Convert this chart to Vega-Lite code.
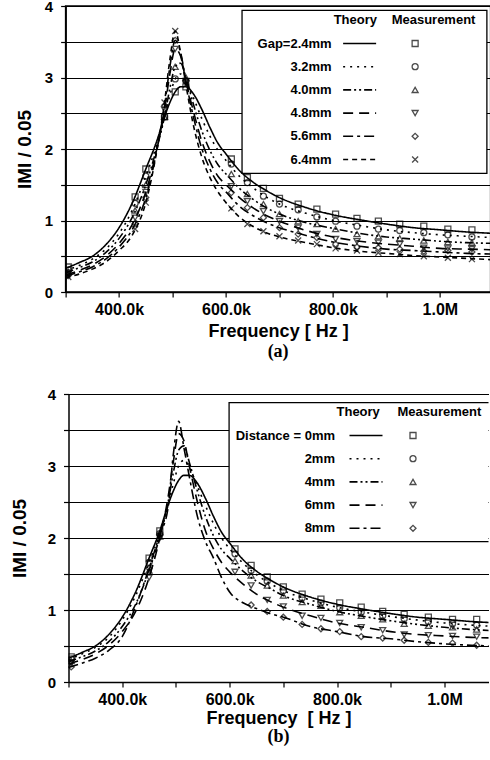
{
"$schema":"https://vega.github.io/schema/vega-lite/v6.json",
"padding":{"left":9.5,"top":-2,"right":0,"bottom":0},
"config":{
 "font":"Liberation Sans",
 "view":{"stroke":null},
 "axis":{"labelFont":"Liberation Sans","labelFontWeight":"bold","labelColor":"black","titleFont":"Liberation Sans","titleFontWeight":"bold","titleColor":"black","domainColor":"black","tickColor":"black","gridColor":"black","gridOpacity":1,"gridWidth":1,"domainWidth":1.5,"tickWidth":1.2},
 "legend":{"labelFont":"Liberation Sans","titleFont":"Liberation Sans","labelColor":"black","titleColor":"black","labelFontWeight":"bold","titleFontWeight":"bold","labelFontSize":13,"titleFontSize":13,"padding":0}
},
"datasets":{
"thA":[
{"k":300,"v":0.33,"s":"Gap=2.4mm"},{"k":325,"v":0.41,"s":"Gap=2.4mm"},{"k":350,"v":0.5,"s":"Gap=2.4mm"},{"k":375,"v":0.66,"s":"Gap=2.4mm"},{"k":400,"v":0.9,"s":"Gap=2.4mm"},{"k":425,"v":1.25,"s":"Gap=2.4mm"},{"k":450,"v":1.72,"s":"Gap=2.4mm"},{"k":470,"v":2.1,"s":"Gap=2.4mm"},{"k":485,"v":2.45,"s":"Gap=2.4mm"},{"k":495,"v":2.65,"s":"Gap=2.4mm"},{"k":505,"v":2.8,"s":"Gap=2.4mm"},{"k":515,"v":2.87,"s":"Gap=2.4mm"},{"k":525,"v":2.87,"s":"Gap=2.4mm"},{"k":540,"v":2.76,"s":"Gap=2.4mm"},{"k":555,"v":2.55,"s":"Gap=2.4mm"},{"k":570,"v":2.3,"s":"Gap=2.4mm"},{"k":585,"v":2.08,"s":"Gap=2.4mm"},{"k":600,"v":1.93,"s":"Gap=2.4mm"},{"k":625,"v":1.7,"s":"Gap=2.4mm"},{"k":650,"v":1.54,"s":"Gap=2.4mm"},{"k":675,"v":1.42,"s":"Gap=2.4mm"},{"k":700,"v":1.32,"s":"Gap=2.4mm"},{"k":750,"v":1.18,"s":"Gap=2.4mm"},{"k":800,"v":1.08,"s":"Gap=2.4mm"},{"k":850,"v":1.01,"s":"Gap=2.4mm"},{"k":900,"v":0.95,"s":"Gap=2.4mm"},{"k":950,"v":0.9,"s":"Gap=2.4mm"},{"k":1000,"v":0.87,"s":"Gap=2.4mm"},{"k":1050,"v":0.84,"s":"Gap=2.4mm"},{"k":1100,"v":0.82,"s":"Gap=2.4mm"},
{"k":300,"v":0.3,"s":"3.2mm"},{"k":325,"v":0.37,"s":"3.2mm"},{"k":350,"v":0.46,"s":"3.2mm"},{"k":375,"v":0.6,"s":"3.2mm"},{"k":400,"v":0.82,"s":"3.2mm"},{"k":425,"v":1.15,"s":"3.2mm"},{"k":450,"v":1.62,"s":"3.2mm"},{"k":470,"v":2.05,"s":"3.2mm"},{"k":485,"v":2.45,"s":"3.2mm"},{"k":495,"v":2.75,"s":"3.2mm"},{"k":505,"v":2.98,"s":"3.2mm"},{"k":515,"v":3.05,"s":"3.2mm"},{"k":525,"v":2.95,"s":"3.2mm"},{"k":540,"v":2.7,"s":"3.2mm"},{"k":555,"v":2.42,"s":"3.2mm"},{"k":570,"v":2.18,"s":"3.2mm"},{"k":585,"v":1.98,"s":"3.2mm"},{"k":600,"v":1.84,"s":"3.2mm"},{"k":625,"v":1.62,"s":"3.2mm"},{"k":650,"v":1.46,"s":"3.2mm"},{"k":675,"v":1.33,"s":"3.2mm"},{"k":700,"v":1.23,"s":"3.2mm"},{"k":750,"v":1.1,"s":"3.2mm"},{"k":800,"v":1.0,"s":"3.2mm"},{"k":850,"v":0.93,"s":"3.2mm"},{"k":900,"v":0.87,"s":"3.2mm"},{"k":950,"v":0.83,"s":"3.2mm"},{"k":1000,"v":0.8,"s":"3.2mm"},{"k":1050,"v":0.78,"s":"3.2mm"},{"k":1100,"v":0.76,"s":"3.2mm"},
{"k":300,"v":0.27,"s":"4.0mm"},{"k":325,"v":0.34,"s":"4.0mm"},{"k":350,"v":0.42,"s":"4.0mm"},{"k":375,"v":0.55,"s":"4.0mm"},{"k":400,"v":0.75,"s":"4.0mm"},{"k":425,"v":1.05,"s":"4.0mm"},{"k":450,"v":1.5,"s":"4.0mm"},{"k":470,"v":2.0,"s":"4.0mm"},{"k":485,"v":2.45,"s":"4.0mm"},{"k":495,"v":2.85,"s":"4.0mm"},{"k":505,"v":3.15,"s":"4.0mm"},{"k":515,"v":3.2,"s":"4.0mm"},{"k":525,"v":3.0,"s":"4.0mm"},{"k":540,"v":2.6,"s":"4.0mm"},{"k":555,"v":2.25,"s":"4.0mm"},{"k":570,"v":1.98,"s":"4.0mm"},{"k":585,"v":1.78,"s":"4.0mm"},{"k":600,"v":1.65,"s":"4.0mm"},{"k":625,"v":1.45,"s":"4.0mm"},{"k":650,"v":1.3,"s":"4.0mm"},{"k":675,"v":1.18,"s":"4.0mm"},{"k":700,"v":1.09,"s":"4.0mm"},{"k":750,"v":0.97,"s":"4.0mm"},{"k":800,"v":0.89,"s":"4.0mm"},{"k":850,"v":0.82,"s":"4.0mm"},{"k":900,"v":0.77,"s":"4.0mm"},{"k":950,"v":0.74,"s":"4.0mm"},{"k":1000,"v":0.71,"s":"4.0mm"},{"k":1050,"v":0.69,"s":"4.0mm"},{"k":1100,"v":0.68,"s":"4.0mm"},
{"k":300,"v":0.24,"s":"4.8mm"},{"k":325,"v":0.3,"s":"4.8mm"},{"k":350,"v":0.38,"s":"4.8mm"},{"k":375,"v":0.5,"s":"4.8mm"},{"k":400,"v":0.68,"s":"4.8mm"},{"k":425,"v":0.95,"s":"4.8mm"},{"k":450,"v":1.4,"s":"4.8mm"},{"k":470,"v":1.98,"s":"4.8mm"},{"k":485,"v":2.55,"s":"4.8mm"},{"k":495,"v":3.05,"s":"4.8mm"},{"k":505,"v":3.4,"s":"4.8mm"},{"k":515,"v":3.3,"s":"4.8mm"},{"k":525,"v":2.95,"s":"4.8mm"},{"k":540,"v":2.5,"s":"4.8mm"},{"k":555,"v":2.1,"s":"4.8mm"},{"k":570,"v":1.82,"s":"4.8mm"},{"k":585,"v":1.62,"s":"4.8mm"},{"k":600,"v":1.5,"s":"4.8mm"},{"k":625,"v":1.32,"s":"4.8mm"},{"k":650,"v":1.18,"s":"4.8mm"},{"k":675,"v":1.07,"s":"4.8mm"},{"k":700,"v":0.99,"s":"4.8mm"},{"k":750,"v":0.86,"s":"4.8mm"},{"k":800,"v":0.77,"s":"4.8mm"},{"k":850,"v":0.71,"s":"4.8mm"},{"k":900,"v":0.67,"s":"4.8mm"},{"k":950,"v":0.64,"s":"4.8mm"},{"k":1000,"v":0.61,"s":"4.8mm"},{"k":1050,"v":0.6,"s":"4.8mm"},{"k":1100,"v":0.59,"s":"4.8mm"},
{"k":300,"v":0.22,"s":"5.6mm"},{"k":325,"v":0.28,"s":"5.6mm"},{"k":350,"v":0.35,"s":"5.6mm"},{"k":375,"v":0.46,"s":"5.6mm"},{"k":400,"v":0.63,"s":"5.6mm"},{"k":425,"v":0.88,"s":"5.6mm"},{"k":450,"v":1.32,"s":"5.6mm"},{"k":470,"v":1.96,"s":"5.6mm"},{"k":485,"v":2.6,"s":"5.6mm"},{"k":495,"v":3.15,"s":"5.6mm"},{"k":505,"v":3.52,"s":"5.6mm"},{"k":515,"v":3.35,"s":"5.6mm"},{"k":525,"v":2.95,"s":"5.6mm"},{"k":540,"v":2.42,"s":"5.6mm"},{"k":555,"v":2.0,"s":"5.6mm"},{"k":570,"v":1.72,"s":"5.6mm"},{"k":585,"v":1.52,"s":"5.6mm"},{"k":600,"v":1.4,"s":"5.6mm"},{"k":625,"v":1.2,"s":"5.6mm"},{"k":650,"v":1.07,"s":"5.6mm"},{"k":675,"v":0.97,"s":"5.6mm"},{"k":700,"v":0.9,"s":"5.6mm"},{"k":750,"v":0.79,"s":"5.6mm"},{"k":800,"v":0.7,"s":"5.6mm"},{"k":850,"v":0.64,"s":"5.6mm"},{"k":900,"v":0.6,"s":"5.6mm"},{"k":950,"v":0.58,"s":"5.6mm"},{"k":1000,"v":0.56,"s":"5.6mm"},{"k":1050,"v":0.54,"s":"5.6mm"},{"k":1100,"v":0.53,"s":"5.6mm"},
{"k":300,"v":0.2,"s":"6.4mm"},{"k":325,"v":0.25,"s":"6.4mm"},{"k":350,"v":0.32,"s":"6.4mm"},{"k":375,"v":0.42,"s":"6.4mm"},{"k":400,"v":0.58,"s":"6.4mm"},{"k":425,"v":0.8,"s":"6.4mm"},{"k":450,"v":1.25,"s":"6.4mm"},{"k":470,"v":1.95,"s":"6.4mm"},{"k":485,"v":2.65,"s":"6.4mm"},{"k":495,"v":3.25,"s":"6.4mm"},{"k":505,"v":3.65,"s":"6.4mm"},{"k":515,"v":3.35,"s":"6.4mm"},{"k":525,"v":2.9,"s":"6.4mm"},{"k":540,"v":2.3,"s":"6.4mm"},{"k":555,"v":1.88,"s":"6.4mm"},{"k":570,"v":1.6,"s":"6.4mm"},{"k":585,"v":1.4,"s":"6.4mm"},{"k":600,"v":1.25,"s":"6.4mm"},{"k":625,"v":1.05,"s":"6.4mm"},{"k":650,"v":0.92,"s":"6.4mm"},{"k":675,"v":0.83,"s":"6.4mm"},{"k":700,"v":0.77,"s":"6.4mm"},{"k":750,"v":0.69,"s":"6.4mm"},{"k":800,"v":0.62,"s":"6.4mm"},{"k":850,"v":0.57,"s":"6.4mm"},{"k":900,"v":0.54,"s":"6.4mm"},{"k":950,"v":0.51,"s":"6.4mm"},{"k":1000,"v":0.49,"s":"6.4mm"},{"k":1050,"v":0.47,"s":"6.4mm"},{"k":1100,"v":0.45,"s":"6.4mm"}
],
"meA":[
{"k":305,"v":0.35,"s":"2.4mm measured"},{"k":430,"v":1.33,"s":"2.4mm measured"},{"k":450,"v":1.72,"s":"2.4mm measured"},{"k":485,"v":2.45,"s":"2.4mm measured"},{"k":505,"v":2.8,"s":"2.4mm measured"},{"k":525,"v":2.87,"s":"2.4mm measured"},{"k":610,"v":1.86,"s":"2.4mm measured"},{"k":640,"v":1.6,"s":"2.4mm measured"},{"k":670,"v":1.45,"s":"2.4mm measured"},{"k":700,"v":1.31,"s":"2.4mm measured"},{"k":735,"v":1.23,"s":"2.4mm measured"},{"k":770,"v":1.16,"s":"2.4mm measured"},{"k":805,"v":1.09,"s":"2.4mm measured"},{"k":845,"v":1.03,"s":"2.4mm measured"},{"k":885,"v":0.99,"s":"2.4mm measured"},{"k":925,"v":0.95,"s":"2.4mm measured"},{"k":970,"v":0.92,"s":"2.4mm measured"},{"k":1015,"v":0.88,"s":"2.4mm measured"},{"k":1060,"v":0.87,"s":"2.4mm measured"},
{"k":305,"v":0.31,"s":"3.2mm measured"},{"k":430,"v":1.24,"s":"3.2mm measured"},{"k":450,"v":1.62,"s":"3.2mm measured"},{"k":485,"v":2.45,"s":"3.2mm measured"},{"k":505,"v":2.98,"s":"3.2mm measured"},{"k":525,"v":2.95,"s":"3.2mm measured"},{"k":610,"v":1.79,"s":"3.2mm measured"},{"k":640,"v":1.53,"s":"3.2mm measured"},{"k":670,"v":1.34,"s":"3.2mm measured"},{"k":700,"v":1.23,"s":"3.2mm measured"},{"k":735,"v":1.15,"s":"3.2mm measured"},{"k":770,"v":1.05,"s":"3.2mm measured"},{"k":805,"v":0.99,"s":"3.2mm measured"},{"k":845,"v":0.92,"s":"3.2mm measured"},{"k":885,"v":0.88,"s":"3.2mm measured"},{"k":925,"v":0.86,"s":"3.2mm measured"},{"k":970,"v":0.83,"s":"3.2mm measured"},{"k":1015,"v":0.8,"s":"3.2mm measured"},{"k":1060,"v":0.77,"s":"3.2mm measured"},
{"k":305,"v":0.28,"s":"4.0mm measured"},{"k":430,"v":1.14,"s":"4.0mm measured"},{"k":450,"v":1.5,"s":"4.0mm measured"},{"k":485,"v":2.45,"s":"4.0mm measured"},{"k":505,"v":3.15,"s":"4.0mm measured"},{"k":525,"v":3.0,"s":"4.0mm measured"},{"k":610,"v":1.65,"s":"4.0mm measured"},{"k":640,"v":1.37,"s":"4.0mm measured"},{"k":670,"v":1.23,"s":"4.0mm measured"},{"k":700,"v":1.09,"s":"4.0mm measured"},{"k":735,"v":0.99,"s":"4.0mm measured"},{"k":770,"v":0.95,"s":"4.0mm measured"},{"k":805,"v":0.88,"s":"4.0mm measured"},{"k":845,"v":0.81,"s":"4.0mm measured"},{"k":885,"v":0.78,"s":"4.0mm measured"},{"k":925,"v":0.75,"s":"4.0mm measured"},{"k":970,"v":0.72,"s":"4.0mm measured"},{"k":1015,"v":0.7,"s":"4.0mm measured"},{"k":1060,"v":0.69,"s":"4.0mm measured"},
{"k":305,"v":0.25,"s":"4.8mm measured"},{"k":430,"v":1.04,"s":"4.8mm measured"},{"k":450,"v":1.4,"s":"4.8mm measured"},{"k":485,"v":2.55,"s":"4.8mm measured"},{"k":505,"v":3.4,"s":"4.8mm measured"},{"k":525,"v":2.95,"s":"4.8mm measured"},{"k":610,"v":1.48,"s":"4.8mm measured"},{"k":640,"v":1.27,"s":"4.8mm measured"},{"k":670,"v":1.13,"s":"4.8mm measured"},{"k":700,"v":0.99,"s":"4.8mm measured"},{"k":735,"v":0.9,"s":"4.8mm measured"},{"k":770,"v":0.81,"s":"4.8mm measured"},{"k":805,"v":0.74,"s":"4.8mm measured"},{"k":845,"v":0.71,"s":"4.8mm measured"},{"k":885,"v":0.69,"s":"4.8mm measured"},{"k":925,"v":0.67,"s":"4.8mm measured"},{"k":970,"v":0.62,"s":"4.8mm measured"},{"k":1015,"v":0.61,"s":"4.8mm measured"},{"k":1060,"v":0.6,"s":"4.8mm measured"},
{"k":305,"v":0.23,"s":"5.6mm measured"},{"k":430,"v":0.96,"s":"5.6mm measured"},{"k":450,"v":1.32,"s":"5.6mm measured"},{"k":485,"v":2.6,"s":"5.6mm measured"},{"k":505,"v":3.52,"s":"5.6mm measured"},{"k":525,"v":2.95,"s":"5.6mm measured"},{"k":610,"v":1.39,"s":"5.6mm measured"},{"k":640,"v":1.18,"s":"5.6mm measured"},{"k":670,"v":1.04,"s":"5.6mm measured"},{"k":700,"v":0.9,"s":"5.6mm measured"},{"k":735,"v":0.81,"s":"5.6mm measured"},{"k":770,"v":0.76,"s":"5.6mm measured"},{"k":805,"v":0.67,"s":"5.6mm measured"},{"k":845,"v":0.63,"s":"5.6mm measured"},{"k":885,"v":0.62,"s":"5.6mm measured"},{"k":925,"v":0.6,"s":"5.6mm measured"},{"k":970,"v":0.57,"s":"5.6mm measured"},{"k":1015,"v":0.58,"s":"5.6mm measured"},{"k":1060,"v":0.56,"s":"5.6mm measured"},
{"k":305,"v":0.21,"s":"6.4mm measured"},{"k":430,"v":0.88,"s":"6.4mm measured"},{"k":450,"v":1.25,"s":"6.4mm measured"},{"k":485,"v":2.65,"s":"6.4mm measured"},{"k":505,"v":3.65,"s":"6.4mm measured"},{"k":525,"v":2.9,"s":"6.4mm measured"},{"k":610,"v":1.17,"s":"6.4mm measured"},{"k":640,"v":0.95,"s":"6.4mm measured"},{"k":670,"v":0.85,"s":"6.4mm measured"},{"k":700,"v":0.78,"s":"6.4mm measured"},{"k":735,"v":0.72,"s":"6.4mm measured"},{"k":770,"v":0.67,"s":"6.4mm measured"},{"k":805,"v":0.61,"s":"6.4mm measured"},{"k":845,"v":0.58,"s":"6.4mm measured"},{"k":885,"v":0.55,"s":"6.4mm measured"},{"k":925,"v":0.53,"s":"6.4mm measured"},{"k":970,"v":0.5,"s":"6.4mm measured"},{"k":1015,"v":0.48,"s":"6.4mm measured"},{"k":1060,"v":0.46,"s":"6.4mm measured"}
],
"thB":[
{"k":300,"v":0.33,"s":"Distance = 0mm"},{"k":325,"v":0.41,"s":"Distance = 0mm"},{"k":350,"v":0.5,"s":"Distance = 0mm"},{"k":375,"v":0.66,"s":"Distance = 0mm"},{"k":400,"v":0.9,"s":"Distance = 0mm"},{"k":425,"v":1.25,"s":"Distance = 0mm"},{"k":450,"v":1.72,"s":"Distance = 0mm"},{"k":470,"v":2.1,"s":"Distance = 0mm"},{"k":485,"v":2.45,"s":"Distance = 0mm"},{"k":495,"v":2.65,"s":"Distance = 0mm"},{"k":505,"v":2.8,"s":"Distance = 0mm"},{"k":515,"v":2.87,"s":"Distance = 0mm"},{"k":525,"v":2.87,"s":"Distance = 0mm"},{"k":540,"v":2.76,"s":"Distance = 0mm"},{"k":555,"v":2.55,"s":"Distance = 0mm"},{"k":570,"v":2.3,"s":"Distance = 0mm"},{"k":585,"v":2.08,"s":"Distance = 0mm"},{"k":600,"v":1.93,"s":"Distance = 0mm"},{"k":625,"v":1.7,"s":"Distance = 0mm"},{"k":650,"v":1.54,"s":"Distance = 0mm"},{"k":675,"v":1.42,"s":"Distance = 0mm"},{"k":700,"v":1.32,"s":"Distance = 0mm"},{"k":750,"v":1.18,"s":"Distance = 0mm"},{"k":800,"v":1.08,"s":"Distance = 0mm"},{"k":850,"v":1.01,"s":"Distance = 0mm"},{"k":900,"v":0.95,"s":"Distance = 0mm"},{"k":950,"v":0.9,"s":"Distance = 0mm"},{"k":1000,"v":0.87,"s":"Distance = 0mm"},{"k":1050,"v":0.84,"s":"Distance = 0mm"},{"k":1100,"v":0.82,"s":"Distance = 0mm"},
{"k":300,"v":0.31,"s":"2mm"},{"k":325,"v":0.39,"s":"2mm"},{"k":350,"v":0.48,"s":"2mm"},{"k":375,"v":0.62,"s":"2mm"},{"k":400,"v":0.86,"s":"2mm"},{"k":425,"v":1.2,"s":"2mm"},{"k":450,"v":1.66,"s":"2mm"},{"k":470,"v":2.06,"s":"2mm"},{"k":485,"v":2.45,"s":"2mm"},{"k":495,"v":2.75,"s":"2mm"},{"k":505,"v":3.0,"s":"2mm"},{"k":515,"v":3.08,"s":"2mm"},{"k":525,"v":2.98,"s":"2mm"},{"k":540,"v":2.72,"s":"2mm"},{"k":555,"v":2.45,"s":"2mm"},{"k":570,"v":2.2,"s":"2mm"},{"k":585,"v":2.0,"s":"2mm"},{"k":600,"v":1.85,"s":"2mm"},{"k":625,"v":1.65,"s":"2mm"},{"k":650,"v":1.49,"s":"2mm"},{"k":675,"v":1.37,"s":"2mm"},{"k":700,"v":1.27,"s":"2mm"},{"k":750,"v":1.14,"s":"2mm"},{"k":800,"v":1.04,"s":"2mm"},{"k":850,"v":0.97,"s":"2mm"},{"k":900,"v":0.91,"s":"2mm"},{"k":950,"v":0.86,"s":"2mm"},{"k":1000,"v":0.82,"s":"2mm"},{"k":1050,"v":0.79,"s":"2mm"},{"k":1100,"v":0.77,"s":"2mm"},
{"k":300,"v":0.28,"s":"4mm"},{"k":325,"v":0.35,"s":"4mm"},{"k":350,"v":0.43,"s":"4mm"},{"k":375,"v":0.56,"s":"4mm"},{"k":400,"v":0.77,"s":"4mm"},{"k":425,"v":1.08,"s":"4mm"},{"k":450,"v":1.55,"s":"4mm"},{"k":470,"v":2.02,"s":"4mm"},{"k":485,"v":2.48,"s":"4mm"},{"k":495,"v":2.9,"s":"4mm"},{"k":505,"v":3.22,"s":"4mm"},{"k":515,"v":3.28,"s":"4mm"},{"k":525,"v":3.05,"s":"4mm"},{"k":540,"v":2.65,"s":"4mm"},{"k":555,"v":2.3,"s":"4mm"},{"k":570,"v":2.03,"s":"4mm"},{"k":585,"v":1.84,"s":"4mm"},{"k":600,"v":1.72,"s":"4mm"},{"k":625,"v":1.54,"s":"4mm"},{"k":650,"v":1.4,"s":"4mm"},{"k":675,"v":1.3,"s":"4mm"},{"k":700,"v":1.2,"s":"4mm"},{"k":750,"v":1.08,"s":"4mm"},{"k":800,"v":0.98,"s":"4mm"},{"k":850,"v":0.91,"s":"4mm"},{"k":900,"v":0.85,"s":"4mm"},{"k":950,"v":0.8,"s":"4mm"},{"k":1000,"v":0.76,"s":"4mm"},{"k":1050,"v":0.73,"s":"4mm"},{"k":1100,"v":0.71,"s":"4mm"},
{"k":300,"v":0.25,"s":"6mm"},{"k":325,"v":0.31,"s":"6mm"},{"k":350,"v":0.39,"s":"6mm"},{"k":375,"v":0.51,"s":"6mm"},{"k":400,"v":0.7,"s":"6mm"},{"k":425,"v":0.98,"s":"6mm"},{"k":450,"v":1.45,"s":"6mm"},{"k":470,"v":2.0,"s":"6mm"},{"k":485,"v":2.55,"s":"6mm"},{"k":495,"v":3.05,"s":"6mm"},{"k":505,"v":3.45,"s":"6mm"},{"k":515,"v":3.35,"s":"6mm"},{"k":525,"v":3.0,"s":"6mm"},{"k":540,"v":2.5,"s":"6mm"},{"k":555,"v":2.1,"s":"6mm"},{"k":570,"v":1.85,"s":"6mm"},{"k":585,"v":1.66,"s":"6mm"},{"k":600,"v":1.53,"s":"6mm"},{"k":625,"v":1.36,"s":"6mm"},{"k":650,"v":1.22,"s":"6mm"},{"k":675,"v":1.12,"s":"6mm"},{"k":700,"v":1.04,"s":"6mm"},{"k":750,"v":0.92,"s":"6mm"},{"k":800,"v":0.82,"s":"6mm"},{"k":850,"v":0.76,"s":"6mm"},{"k":900,"v":0.7,"s":"6mm"},{"k":950,"v":0.66,"s":"6mm"},{"k":1000,"v":0.64,"s":"6mm"},{"k":1050,"v":0.62,"s":"6mm"},{"k":1100,"v":0.61,"s":"6mm"},
{"k":300,"v":0.2,"s":"8mm"},{"k":325,"v":0.26,"s":"8mm"},{"k":350,"v":0.33,"s":"8mm"},{"k":375,"v":0.44,"s":"8mm"},{"k":400,"v":0.63,"s":"8mm"},{"k":425,"v":1.05,"s":"8mm"},{"k":450,"v":1.58,"s":"8mm"},{"k":470,"v":2.05,"s":"8mm"},{"k":485,"v":2.4,"s":"8mm"},{"k":495,"v":3.15,"s":"8mm"},{"k":505,"v":3.62,"s":"8mm"},{"k":515,"v":3.25,"s":"8mm"},{"k":525,"v":2.85,"s":"8mm"},{"k":540,"v":2.3,"s":"8mm"},{"k":555,"v":1.95,"s":"8mm"},{"k":570,"v":1.72,"s":"8mm"},{"k":585,"v":1.45,"s":"8mm"},{"k":600,"v":1.25,"s":"8mm"},{"k":625,"v":1.1,"s":"8mm"},{"k":650,"v":1.02,"s":"8mm"},{"k":675,"v":0.95,"s":"8mm"},{"k":700,"v":0.9,"s":"8mm"},{"k":750,"v":0.77,"s":"8mm"},{"k":800,"v":0.7,"s":"8mm"},{"k":850,"v":0.63,"s":"8mm"},{"k":900,"v":0.6,"s":"8mm"},{"k":950,"v":0.56,"s":"8mm"},{"k":1000,"v":0.53,"s":"8mm"},{"k":1050,"v":0.51,"s":"8mm"},{"k":1100,"v":0.5,"s":"8mm"}
],
"meB":[
{"k":305,"v":0.35,"s":"0mm measured"},{"k":450,"v":1.72,"s":"0mm measured"},{"k":470,"v":2.1,"s":"0mm measured"},{"k":610,"v":1.85,"s":"0mm measured"},{"k":640,"v":1.62,"s":"0mm measured"},{"k":670,"v":1.46,"s":"0mm measured"},{"k":700,"v":1.32,"s":"0mm measured"},{"k":735,"v":1.22,"s":"0mm measured"},{"k":770,"v":1.15,"s":"0mm measured"},{"k":805,"v":1.1,"s":"0mm measured"},{"k":845,"v":1.04,"s":"0mm measured"},{"k":885,"v":0.98,"s":"0mm measured"},{"k":925,"v":0.94,"s":"0mm measured"},{"k":970,"v":0.9,"s":"0mm measured"},{"k":1015,"v":0.87,"s":"0mm measured"},{"k":1060,"v":0.87,"s":"0mm measured"},
{"k":305,"v":0.32,"s":"2mm measured"},{"k":450,"v":1.66,"s":"2mm measured"},{"k":470,"v":2.06,"s":"2mm measured"},{"k":610,"v":1.78,"s":"2mm measured"},{"k":640,"v":1.55,"s":"2mm measured"},{"k":670,"v":1.4,"s":"2mm measured"},{"k":700,"v":1.27,"s":"2mm measured"},{"k":735,"v":1.17,"s":"2mm measured"},{"k":770,"v":1.1,"s":"2mm measured"},{"k":805,"v":1.03,"s":"2mm measured"},{"k":845,"v":0.97,"s":"2mm measured"},{"k":885,"v":0.92,"s":"2mm measured"},{"k":925,"v":0.88,"s":"2mm measured"},{"k":970,"v":0.84,"s":"2mm measured"},{"k":1015,"v":0.81,"s":"2mm measured"},{"k":1060,"v":0.79,"s":"2mm measured"},
{"k":305,"v":0.29,"s":"4mm measured"},{"k":450,"v":1.55,"s":"4mm measured"},{"k":470,"v":2.02,"s":"4mm measured"},{"k":610,"v":1.68,"s":"4mm measured"},{"k":640,"v":1.48,"s":"4mm measured"},{"k":670,"v":1.34,"s":"4mm measured"},{"k":700,"v":1.2,"s":"4mm measured"},{"k":735,"v":1.11,"s":"4mm measured"},{"k":770,"v":1.06,"s":"4mm measured"},{"k":805,"v":0.97,"s":"4mm measured"},{"k":845,"v":0.92,"s":"4mm measured"},{"k":885,"v":0.87,"s":"4mm measured"},{"k":925,"v":0.81,"s":"4mm measured"},{"k":970,"v":0.78,"s":"4mm measured"},{"k":1015,"v":0.76,"s":"4mm measured"},{"k":1060,"v":0.73,"s":"4mm measured"},
{"k":305,"v":0.26,"s":"6mm measured"},{"k":450,"v":1.45,"s":"6mm measured"},{"k":470,"v":2.0,"s":"6mm measured"},{"k":610,"v":1.53,"s":"6mm measured"},{"k":640,"v":1.34,"s":"6mm measured"},{"k":670,"v":1.14,"s":"6mm measured"},{"k":700,"v":1.05,"s":"6mm measured"},{"k":735,"v":0.92,"s":"6mm measured"},{"k":770,"v":0.89,"s":"6mm measured"},{"k":805,"v":0.82,"s":"6mm measured"},{"k":845,"v":0.76,"s":"6mm measured"},{"k":885,"v":0.72,"s":"6mm measured"},{"k":925,"v":0.66,"s":"6mm measured"},{"k":970,"v":0.65,"s":"6mm measured"},{"k":1015,"v":0.64,"s":"6mm measured"},{"k":1060,"v":0.63,"s":"6mm measured"},
{"k":305,"v":0.21,"s":"8mm measured"},{"k":450,"v":1.58,"s":"8mm measured"},{"k":470,"v":2.05,"s":"8mm measured"},{"k":640,"v":1.07,"s":"8mm measured"},{"k":670,"v":0.98,"s":"8mm measured"},{"k":700,"v":0.9,"s":"8mm measured"},{"k":735,"v":0.8,"s":"8mm measured"},{"k":770,"v":0.74,"s":"8mm measured"},{"k":805,"v":0.7,"s":"8mm measured"},{"k":845,"v":0.63,"s":"8mm measured"},{"k":885,"v":0.61,"s":"8mm measured"},{"k":925,"v":0.58,"s":"8mm measured"},{"k":970,"v":0.55,"s":"8mm measured"},{"k":1015,"v":0.54,"s":"8mm measured"},{"k":1060,"v":0.51,"s":"8mm measured"}
],
"box":[{"box":"legend frame"}]
},
"columns":1,
"center":true,
"spacing":25,
"resolve":{"scale":{"strokeDash":"independent","shape":"independent"},"legend":{"strokeDash":"independent","shape":"independent"}},
"concat":[
{
 "width":425,"height":286,
 "view":{"stroke":"black","strokeWidth":1.5},
 "title":{"text":"(a)","orient":"bottom","font":"Liberation Serif","fontSize":18,"fontWeight":"bold","color":"black","offset":3},
 "layer":[
  {"data":{"name":"box"},"mark":{"type":"rect","fill":"white","stroke":"black","strokeWidth":1.3},
   "encoding":{
    "x":{"datum":630,"type":"quantitative","title":"Frequency [ Hz ]","scale":{"domain":[300,1095],"nice":false,"zero":false},
     "axis":{"values":[300,400,500,600,700,800,900,1000],"labelExpr":"datum.value % 200 != 0 ? '' : (datum.value >= 1000 ? format(datum.value/1000,'.1f') + 'M' : format(datum.value,'.1f') + 'k')","grid":false,"tickSize":5,"labelFontSize":16,"labelPadding":4,"titleFontSize":18,"titlePadding":5,"labelFlush":false}},
    "x2":{"datum":1088},
    "y":{"datum":3.94,"type":"quantitative","title":"IMI / 0.05","scale":{"domain":[0,4],"nice":false,"zero":true},
     "axis":{"values":[0,0.5,1,1.5,2,2.5,3,3.5,4],"labelExpr":"datum.value % 1 == 0 ? format(datum.value,'d') : ''","grid":true,"tickSize":5,"labelFontSize":15,"labelPadding":8,"titleFontSize":19,"titlePadding":10}},
    "y2":{"datum":1.66}}},
  {"data":{"name":"thA"},
   "mark":{"type":"line","color":"black","strokeWidth":1.6,"interpolate":"monotone","clip":true},
   "encoding":{
    "x":{"field":"k","type":"quantitative","title":"Frequency [ Hz ]","scale":{"domain":[300,1095],"nice":false,"zero":false},
     "axis":{"values":[300,400,500,600,700,800,900,1000],"labelExpr":"datum.value % 200 != 0 ? '' : (datum.value >= 1000 ? format(datum.value/1000,'.1f') + 'M' : format(datum.value,'.1f') + 'k')","grid":false,"tickSize":5,"labelFontSize":16,"labelPadding":4,"titleFontSize":18,"titlePadding":5,"labelFlush":false}},
    "y":{"field":"v","type":"quantitative","title":"IMI / 0.05","scale":{"domain":[0,4],"nice":false,"zero":true},
     "axis":{"values":[0,0.5,1,1.5,2,2.5,3,3.5,4],"labelExpr":"datum.value % 1 == 0 ? format(datum.value,'d') : ''","grid":true,"tickSize":5,"labelFontSize":15,"labelPadding":8,"titleFontSize":19,"titlePadding":10}},
    "strokeDash":{"field":"s","type":"nominal","scale":{"domain":["Gap=2.4mm","3.2mm","4.0mm","4.8mm","5.6mm","6.4mm"],"range":[[1,0],[2,5],[8,3,2,3,2,3],[10,6],[10,4,3,4],[5,4]]},
    "legend":{"title":"Theory","orient":"none","legendX":268,"legendY":8,"labelAlign":"right","labelOffset":-34.5,"symbolOffset":19.5,"symbolType":"M-3,0H3","symbolSize":121,"symbolStrokeWidth":1.6,"symbolStrokeColor":"black","symbolFillColor":"transparent","rowPadding":9.2,"titlePadding":10}}}},
  {"data":{"name":"meA"},
   "mark":{"type":"point","filled":false,"color":"black","strokeWidth":1.3,"size":36,"clip":true},
   "encoding":{
    "x":{"field":"k","type":"quantitative","title":"Frequency [ Hz ]","scale":{"domain":[300,1095],"nice":false,"zero":false},
     "axis":{"values":[300,400,500,600,700,800,900,1000],"labelExpr":"datum.value % 200 != 0 ? '' : (datum.value >= 1000 ? format(datum.value/1000,'.1f') + 'M' : format(datum.value,'.1f') + 'k')","grid":false,"tickSize":5,"labelFontSize":16,"labelPadding":4,"titleFontSize":18,"titlePadding":5,"labelFlush":false}},
    "y":{"field":"v","type":"quantitative","title":"IMI / 0.05","scale":{"domain":[0,4],"nice":false,"zero":true},
     "axis":{"values":[0,0.5,1,1.5,2,2.5,3,3.5,4],"labelExpr":"datum.value % 1 == 0 ? format(datum.value,'d') : ''","grid":true,"tickSize":5,"labelFontSize":15,"labelPadding":8,"titleFontSize":19,"titlePadding":10}},
    "shape":{"field":"s","type":"nominal","scale":{"domain":["2.4mm measured","3.2mm measured","4.0mm measured","4.8mm measured","5.6mm measured","6.4mm measured"],"range":["square","circle","triangle-up","triangle-down","diamond","M-1,-1L1,1M-1,1L1,-1"]},
    "legend":{"title":"Measurement","orient":"none","legendX":326,"legendY":8,"labelExpr":"''","symbolOffset":17,"symbolSize":36,"symbolStrokeColor":"black","symbolStrokeWidth":1.3,"rowPadding":9.2,"titlePadding":10}}}}
 ]
},
{
 "width":420,"height":288,
 "title":{"text":"(b)","orient":"bottom","font":"Liberation Serif","fontSize":18,"fontWeight":"bold","color":"black","offset":1},
 "layer":[
  {"data":{"name":"box"},"mark":{"type":"rect","fill":"white","stroke":"black","strokeWidth":1.3,"clip":true},
   "encoding":{
    "x":{"datum":599,"type":"quantitative","title":"Frequency\u00a0 [ Hz ]","scale":{"domain":[300,1082],"nice":false,"zero":false},
     "axis":{"values":[300,400,500,600,700,800,900,1000],"labelExpr":"datum.value % 200 != 0 ? '' : (datum.value >= 1000 ? format(datum.value/1000,'.1f') + 'M' : format(datum.value,'.1f') + 'k')","grid":false,"tickSize":5,"labelFontSize":16,"labelPadding":4,"titleFontSize":18,"titlePadding":2,"labelFlush":false}},
    "x2":{"datum":1100},
    "y":{"datum":3.88,"type":"quantitative","title":"IMI / 0.05","scale":{"domain":[0,4],"nice":false,"zero":true},
     "axis":{"values":[0,0.5,1,1.5,2,2.5,3,3.5,4],"labelExpr":"datum.value % 1 == 0 ? format(datum.value,'d') : ''","grid":true,"tickSize":5,"labelFontSize":15,"labelPadding":8,"titleFontSize":19,"titlePadding":18}},
    "y2":{"datum":1.95}}},
  {"data":{"name":"thB"},
   "mark":{"type":"line","color":"black","strokeWidth":1.6,"interpolate":"monotone","clip":true},
   "encoding":{
    "x":{"field":"k","type":"quantitative","title":"Frequency\u00a0 [ Hz ]","scale":{"domain":[300,1082],"nice":false,"zero":false},
     "axis":{"values":[300,400,500,600,700,800,900,1000],"labelExpr":"datum.value % 200 != 0 ? '' : (datum.value >= 1000 ? format(datum.value/1000,'.1f') + 'M' : format(datum.value,'.1f') + 'k')","grid":false,"tickSize":5,"labelFontSize":16,"labelPadding":4,"titleFontSize":18,"titlePadding":2,"labelFlush":false}},
    "y":{"field":"v","type":"quantitative","title":"IMI / 0.05","scale":{"domain":[0,4],"nice":false,"zero":true},
     "axis":{"values":[0,0.5,1,1.5,2,2.5,3,3.5,4],"labelExpr":"datum.value % 1 == 0 ? format(datum.value,'d') : ''","grid":true,"tickSize":5,"labelFontSize":15,"labelPadding":8,"titleFontSize":19,"titlePadding":18}},
    "strokeDash":{"field":"s","type":"nominal","scale":{"domain":["Distance = 0mm","2mm","4mm","6mm","8mm"],"range":[[1,0],[2,5],[8,3,2,3,2,3],[10,6],[10,4,3,4]]},
    "legend":{"title":"Theory","orient":"none","legendX":268,"legendY":12,"labelAlign":"right","labelOffset":-37.5,"symbolOffset":23,"symbolType":"M-3,0H3","symbolSize":121,"symbolStrokeWidth":1.6,"symbolStrokeColor":"black","symbolFillColor":"transparent","rowPadding":9.2,"titlePadding":10}}}},
  {"data":{"name":"meB"},
   "mark":{"type":"point","filled":false,"color":"black","strokeWidth":1.3,"size":36,"clip":true},
   "encoding":{
    "x":{"field":"k","type":"quantitative","title":"Frequency\u00a0 [ Hz ]","scale":{"domain":[300,1082],"nice":false,"zero":false},
     "axis":{"values":[300,400,500,600,700,800,900,1000],"labelExpr":"datum.value % 200 != 0 ? '' : (datum.value >= 1000 ? format(datum.value/1000,'.1f') + 'M' : format(datum.value,'.1f') + 'k')","grid":false,"tickSize":5,"labelFontSize":16,"labelPadding":4,"titleFontSize":18,"titlePadding":2,"labelFlush":false}},
    "y":{"field":"v","type":"quantitative","title":"IMI / 0.05","scale":{"domain":[0,4],"nice":false,"zero":true},
     "axis":{"values":[0,0.5,1,1.5,2,2.5,3,3.5,4],"labelExpr":"datum.value % 1 == 0 ? format(datum.value,'d') : ''","grid":true,"tickSize":5,"labelFontSize":15,"labelPadding":8,"titleFontSize":19,"titlePadding":18}},
    "shape":{"field":"s","type":"nominal","scale":{"domain":["0mm measured","2mm measured","4mm measured","6mm measured","8mm measured"],"range":["square","circle","triangle-up","triangle-down","diamond"]},
    "legend":{"title":"Measurement","orient":"none","legendX":329,"legendY":12,"labelExpr":"''","symbolOffset":9,"symbolSize":36,"symbolStrokeColor":"black","symbolStrokeWidth":1.3,"rowPadding":9.2,"titlePadding":10}}}}
 ]
}
]
}
